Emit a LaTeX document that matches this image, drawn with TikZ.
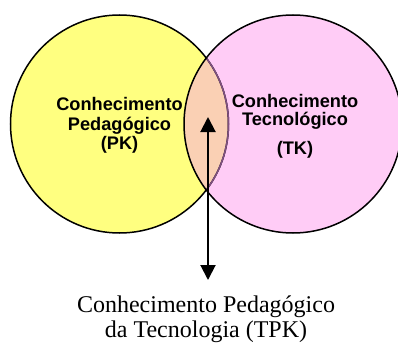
\documentclass[tikz,border=0pt]{standalone}
\usepackage{fontspec}
\setmainfont{Liberation Serif}
\newfontfamily\arialfont{Liberation Sans}
\usetikzlibrary{arrows.meta}
\definecolor{pkyellow}{RGB}{255,255,128}
\definecolor{tkpink}{RGB}{255,204,246}
\definecolor{lenspeach}{RGB}{250,208,180}
\definecolor{lensarc}{RGB}{128,80,128}
\tikzset{
  circlabel/.style={font=\arialfont\bfseries\fontsize{18.2}{19.5}\selectfont, align=center, inner sep=0pt, anchor=base},
  botlabel/.style={font=\fontsize{24}{25}\selectfont, align=center, inner sep=0pt, anchor=base},
  ring/.style={draw=black, line width=1.5pt},
  biarrow/.style={line width=2pt, {Triangle[width=15pt,length=15pt]}-{Triangle[width=15pt,length=15pt]}}
}
\begin{document}
\begin{tikzpicture}[x=1pt,y=-1pt]
\useasboundingbox (0,0) rectangle (398,342);
\clip (0,0) rectangle (398,342);
\coordinate (pkc) at (119.5,124);
\coordinate (tkc) at (293,124);
% circles
\fill[pkyellow] (pkc) circle (109);
\fill[tkpink] (tkc) circle (109);
\begin{scope}
  \clip (pkc) circle (109);
  \fill[lenspeach] (tkc) circle (109);
\end{scope}
\draw[ring] (pkc) circle (109);
\begin{scope}
  \clip (tkc) circle (109);
  \draw[line width=1.5pt, lensarc] (pkc) circle (109);
\end{scope}
\draw[ring] (tkc) circle (109);
% labels
\node[circlabel] (pk1) at (119.5,110.7) {Conhecimento};
\node[circlabel] (pk2) at (119.5,130.2) {Pedagógico};
\node[circlabel] (pk3) at (119.5,149.7) {(PK)};
\node[circlabel] (tk1) at (295,107.3) {Conhecimento};
\node[circlabel] (tk2) at (295,125.3) {Tecnológico};
\node[circlabel] (tk3) at (295,154) {(TK)};
\node[botlabel] (tpk1) at (206,312) {Conhecimento Pedagógico};
\node[botlabel] (tpk2) at (206,337) {da Tecnologia (TPK)};
% arrow
\coordinate (atop) at (208,117);
\coordinate (abot) at (208,280);
\draw[biarrow] (atop) -- (abot);
\end{tikzpicture}
\end{document}
